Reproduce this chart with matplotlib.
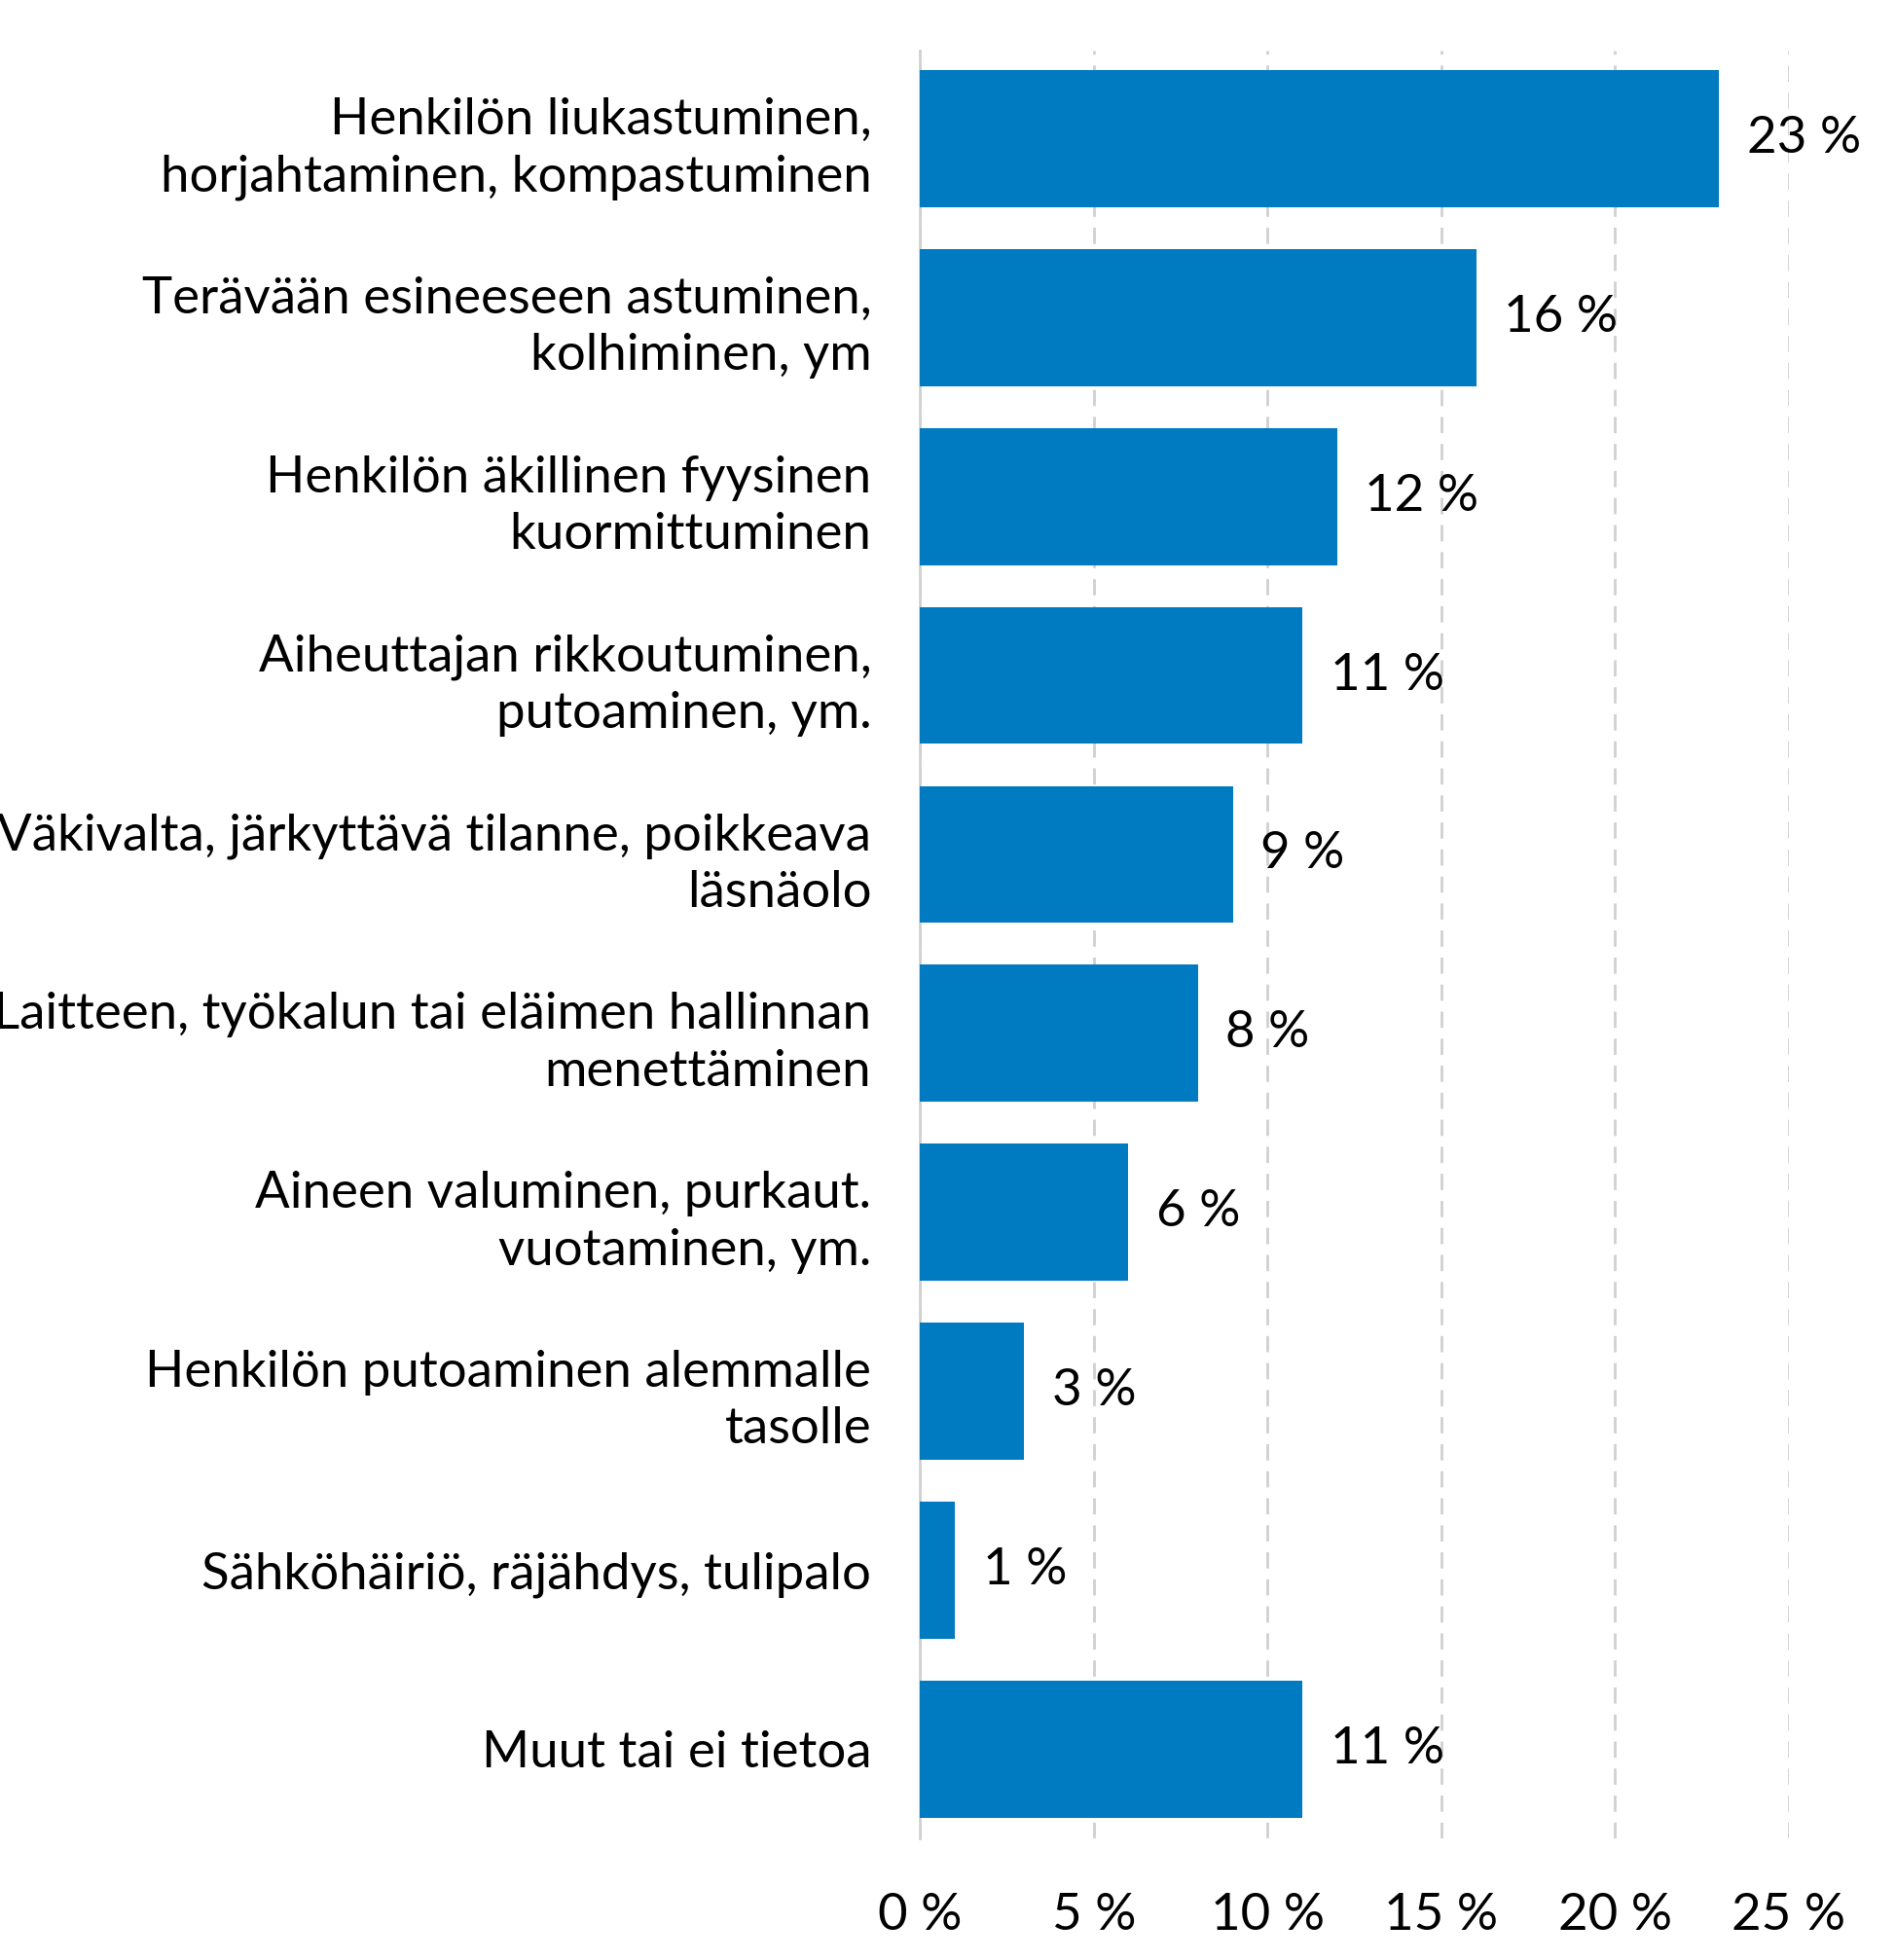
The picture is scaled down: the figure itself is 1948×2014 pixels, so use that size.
import matplotlib.pyplot as plt

categories = [
    "Henkilön liukastuminen,\nhorjahtaminen, kompastuminen",
    "Terävään esineeseen astuminen,\nkolhiminen, ym",
    "Henkilön äkillinen fyysinen\nkuormittuminen",
    "Aiheuttajan rikkoutuminen,\nputoaminen, ym.",
    "Väkivalta, järkyttävä tilanne, poikkeava\nläsnäolo",
    "Laitteen, työkalun tai eläimen hallinnan\nmenettäminen",
    "Aineen valuminen, purkaut.\nvuotaminen, ym.",
    "Henkilön putoaminen alemmalle\ntasolle",
    "Sähköhäiriö, räjähdys, tulipalo",
    "Muut tai ei tietoa",
]
values = [23, 16, 12, 11, 9, 8, 6, 3, 1, 11]
ticks = [0, 5, 10, 15, 20, 25]
tick_labels = ["0 %", "5 %", "10 %", "15 %", "20 %", "25 %"]

plt.rcParams["font.family"] = "Lato"
fs = 38

fig = plt.figure(figsize=(19.49, 20.14), dpi=100)
ax = fig.add_axes([0.485, 0.062, 0.458, 0.912])

y = list(range(len(categories)))
ax.barh(y, values, height=0.765, color="#007AC0", zorder=3)
for yi, v in zip(y, values):
    ax.text(v + 0.8, yi, f"{v} %", va="center", ha="left", fontsize=fs)

ax.set_yticks(y)
ax.set_yticklabels(categories, fontsize=fs, linespacing=1.3)
ax.set_xlim(0, 25)
ax.set_ylim(len(categories) - 0.5, -0.49)
ax.set_xticks(ticks)
ax.set_xticklabels(tick_labels, fontsize=fs)
ax.tick_params(axis="both", length=0)
ax.tick_params(axis="y", pad=36)
ax.tick_params(axis="x", pad=40)
for s in ["top", "right", "bottom"]:
    ax.spines[s].set_visible(False)
ax.spines["left"].set_color("#d0d0d0")
ax.spines["left"].set_linewidth(2)
ax.xaxis.grid(True, linestyle=(0, (6, 4)), color="#d0d0d0", linewidth=2, zorder=0)
ax.set_axisbelow(True)

fig.savefig("out.png", dpi=100)
